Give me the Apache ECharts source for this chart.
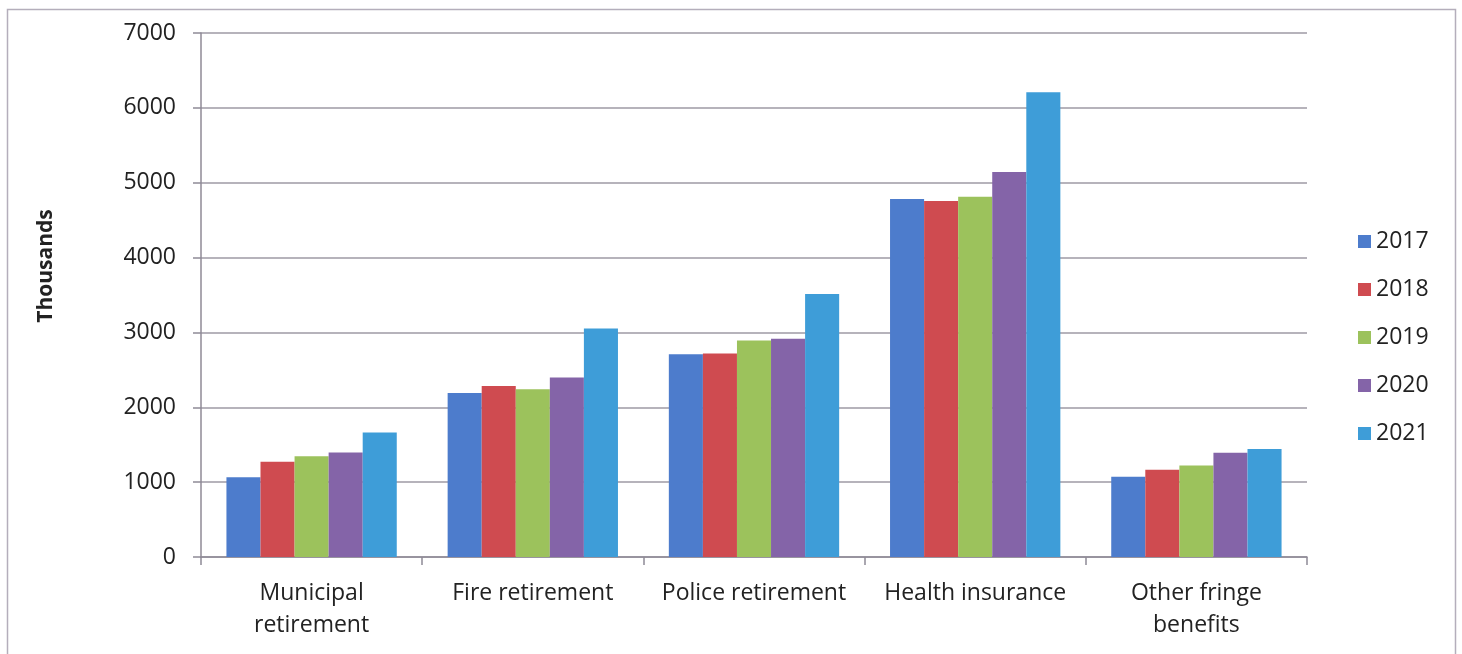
<!DOCTYPE html>
<html>
<head>
<meta charset="utf-8">
<script src="https://cdn.jsdelivr.net/npm/echarts@6/dist/echarts.min.js"></script>
<style>
  html, body { margin: 0; padding: 0; background: #fff; }
  #main { width: 1462px; height: 654px; }
</style>
</head>
<body>
<div id="main"></div>
<script>
// categories and values (thousands)
var categories = ['Municipal\nretirement', 'Fire retirement', 'Police retirement', 'Health insurance', 'Other fringe\nbenefits'];
var years = ['2017', '2018', '2019', '2020', '2021'];
var v2017 = [1066, 2191, 2709, 4782, 1072];
var v2018 = [1272, 2285, 2719, 4755, 1167];
var v2019 = [1347, 2241, 2893, 4813, 1221];
var v2020 = [1396, 2398, 2915, 5143, 1393];
var v2021 = [1664, 3054, 3513, 6210, 1444];
var yTicks = [0, 1000, 2000, 3000, 4000, 5000, 6000, 7000];

var colors = ['#4d7ccc', '#cf4b50', '#9cc25c', '#8464a8', '#3e9dd8'];
var seriesData = [v2017, v2018, v2019, v2020, v2021];
var font = '"Open Sans", Lato, sans-serif';

var myChart = echarts.init(document.getElementById('main'));

var option = {
    animation: false,
    color: colors,
    textStyle: { fontFamily: font },
    graphic: [{
        type: 'rect',
        shape: { x: 7.5, y: 9.5, width: 1448, height: 660 },
        style: { fill: 'none', stroke: '#b4aebb', lineWidth: 1.5 }
    }, {
        // axis title sits above the middle of the axis in the original
        type: 'text',
        x: 46,
        y: 266,
        rotation: Math.PI / 2,
        style: {
            text: 'Thousands',
            fill: '#222',
            font: 'bold 21px ' + font,
            align: 'center',
            verticalAlign: 'middle'
        }
    }],
    legend: {
        orient: 'vertical',
        left: 1353,
        top: 225,
        itemWidth: 13,
        itemHeight: 13,
        itemGap: 25,
        icon: 'rect',
        data: years,
        textStyle: { fontSize: 23, color: '#222', lineHeight: 21, fontFamily: font }
    },
    grid: { left: 201, top: 33, right: 155, bottom: 97 },
    xAxis: {
        type: 'category',
        data: categories,
        axisLine: { lineStyle: { color: '#8f8a96', width: 1.5 } },
        axisTick: { show: true, length: 8, lineStyle: { color: '#8f8a96', width: 1.5 } },
        axisLabel: { fontSize: 23, color: '#222', margin: 20, lineHeight: 32, interval: 0, fontFamily: font }
    },
    yAxis: {
        type: 'value',
        min: yTicks[0],
        max: yTicks[yTicks.length - 1],
        interval: 1000,
        axisLine: { show: true, lineStyle: { color: '#8f8a96', width: 1.5 } },
        axisTick: { show: true, length: 8, lineStyle: { color: '#8f8a96', width: 1.5 } },
        axisLabel: {
            fontSize: 23, color: '#222', margin: 25, fontFamily: font,
            formatter: function (v) { return String(v); }
        },
        splitLine: { lineStyle: { color: '#9e9aa4', width: 1.5 } }
    },
    series: years.map(function (y, i) {
        return {
            name: y,
            type: 'bar',
            data: seriesData[i],
            barGap: '0%',
            barCategoryGap: '23%'
        };
    })
};

myChart.setOption(option);
</script>
</body>
</html>
